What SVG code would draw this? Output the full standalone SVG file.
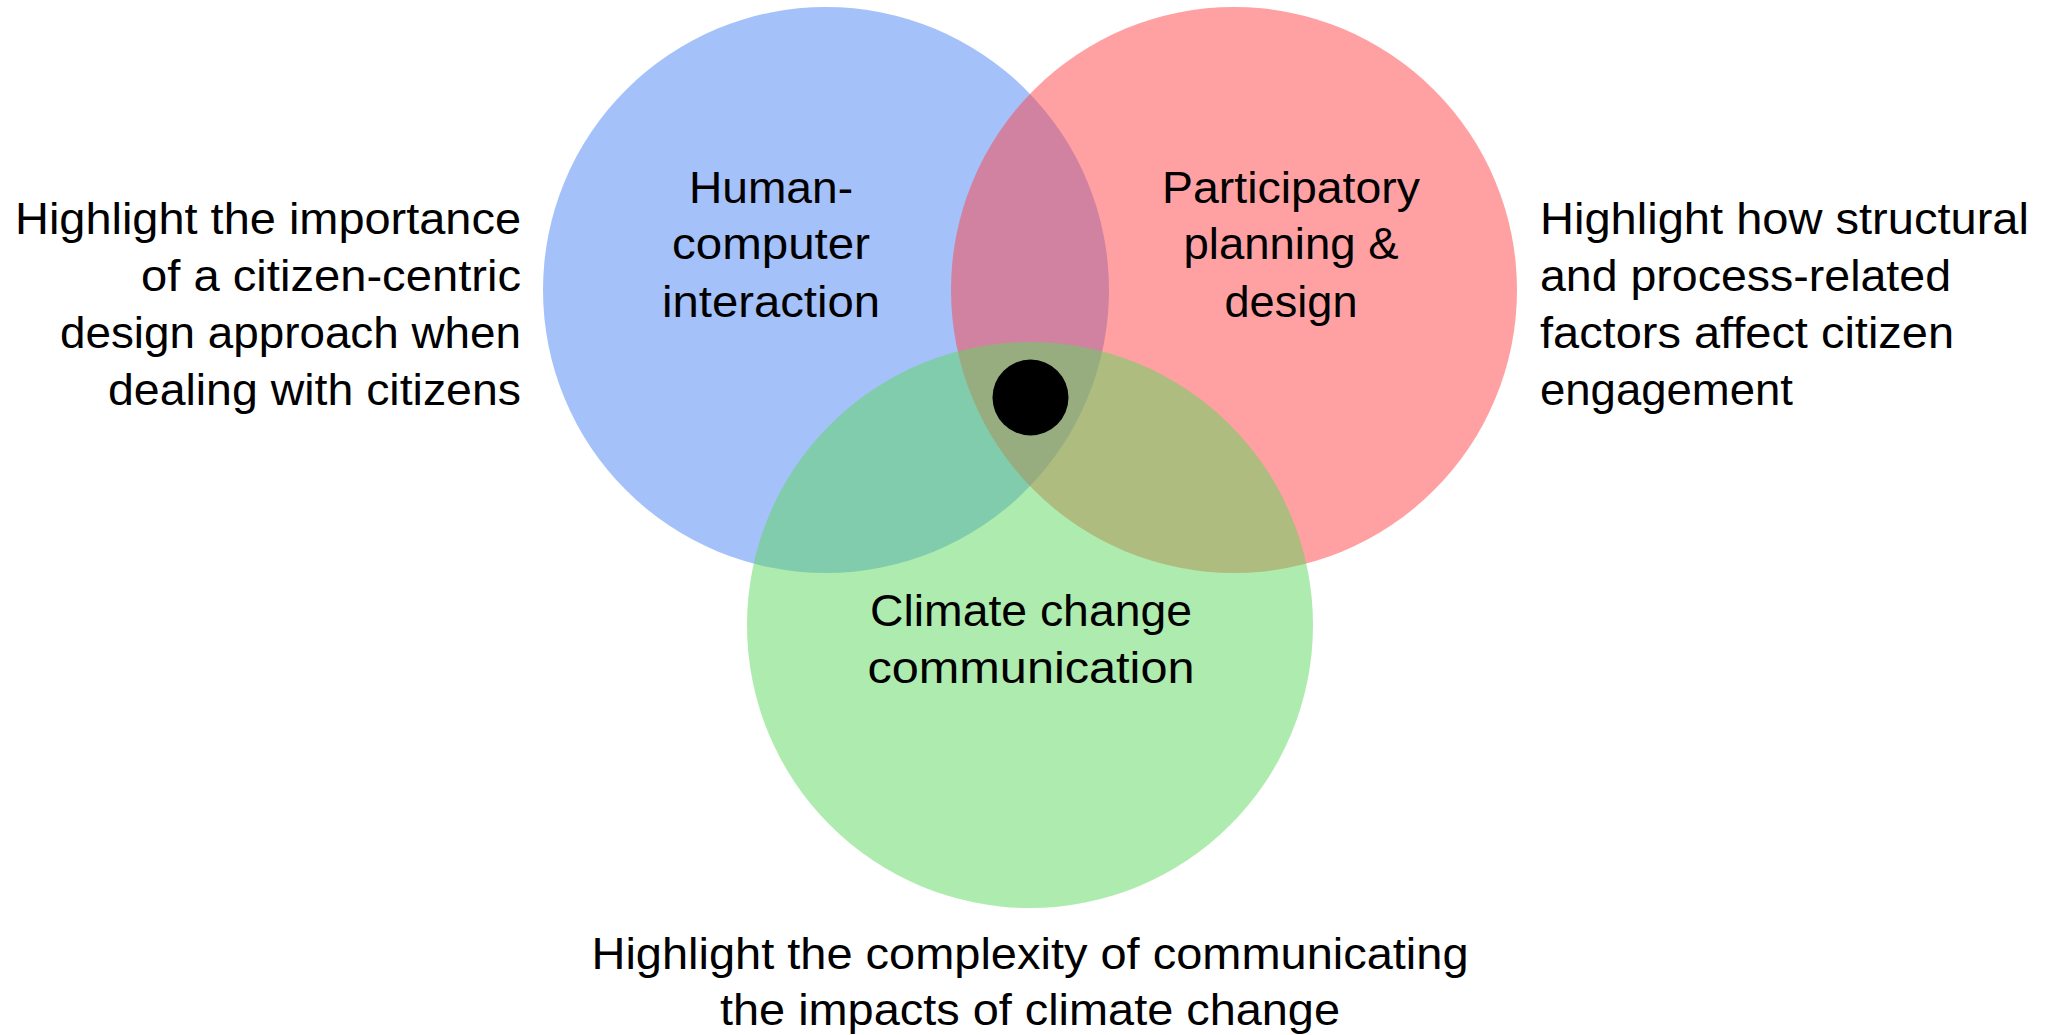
<svg xmlns="http://www.w3.org/2000/svg" width="2048" height="1035" viewBox="0 0 2048 1035">
<style>
  .t { font-family: "Liberation Sans", Arial, sans-serif; font-size: 44px; fill: #000; }
  .c { opacity: 0.5; }
  .mid { text-anchor: middle; }
  .end { text-anchor: end; }
</style>
<rect width="2048" height="1035" fill="#ffffff"/>
<g id="set-hci">
  <circle class="c" cx="826" cy="290" r="283" fill="#4B83F5"/>
</g>
<g id="set-participatory">
  <circle class="c" cx="1234" cy="290" r="283" fill="#FF4347"/>
</g>
<g id="set-climate">
  <circle class="c" cx="1030" cy="625" r="283" fill="#5DD75D"/>
</g>
<g id="center-dot">
  <circle cx="1030.5" cy="397.5" r="38" fill="#000"/>
</g>
<g id="label-hci">
  <text class="t mid" x="771" y="203" textLength="164" lengthAdjust="spacingAndGlyphs">Human-</text>
  <text class="t mid" x="771" y="259" textLength="198" lengthAdjust="spacingAndGlyphs">computer</text>
  <text class="t mid" x="771" y="317" textLength="218" lengthAdjust="spacingAndGlyphs">interaction</text>
</g>
<g id="label-participatory">
  <text class="t mid" x="1291" y="203" textLength="258" lengthAdjust="spacingAndGlyphs">Participatory</text>
  <text class="t mid" x="1291" y="259" textLength="215" lengthAdjust="spacingAndGlyphs">planning &amp;</text>
  <text class="t mid" x="1291" y="317" textLength="133" lengthAdjust="spacingAndGlyphs">design</text>
</g>
<g id="label-climate">
  <text class="t mid" x="1031" y="626" textLength="322" lengthAdjust="spacingAndGlyphs">Climate change</text>
  <text class="t mid" x="1031" y="683" textLength="327" lengthAdjust="spacingAndGlyphs">communication</text>
</g>
<g id="note-left">
  <text class="t end" x="521" y="234" textLength="506" lengthAdjust="spacingAndGlyphs">Highlight the importance</text>
  <text class="t end" x="521" y="291" textLength="380" lengthAdjust="spacingAndGlyphs">of a citizen-centric</text>
  <text class="t end" x="521" y="348" textLength="461" lengthAdjust="spacingAndGlyphs">design approach when</text>
  <text class="t end" x="521" y="405" textLength="413" lengthAdjust="spacingAndGlyphs">dealing with citizens</text>
</g>
<g id="note-right">
  <text class="t" x="1540" y="234" textLength="489" lengthAdjust="spacingAndGlyphs">Highlight how structural</text>
  <text class="t" x="1540" y="291" textLength="411" lengthAdjust="spacingAndGlyphs">and process-related</text>
  <text class="t" x="1540" y="348" textLength="414" lengthAdjust="spacingAndGlyphs">factors affect citizen</text>
  <text class="t" x="1540" y="405" textLength="253" lengthAdjust="spacingAndGlyphs">engagement</text>
</g>
<g id="note-bottom">
  <text class="t mid" x="1030" y="969" textLength="877" lengthAdjust="spacingAndGlyphs">Highlight the complexity of communicating</text>
  <text class="t mid" x="1030" y="1025" textLength="620" lengthAdjust="spacingAndGlyphs">the impacts of climate change</text>
</g>
<g id="connectors"></g>
</svg>
